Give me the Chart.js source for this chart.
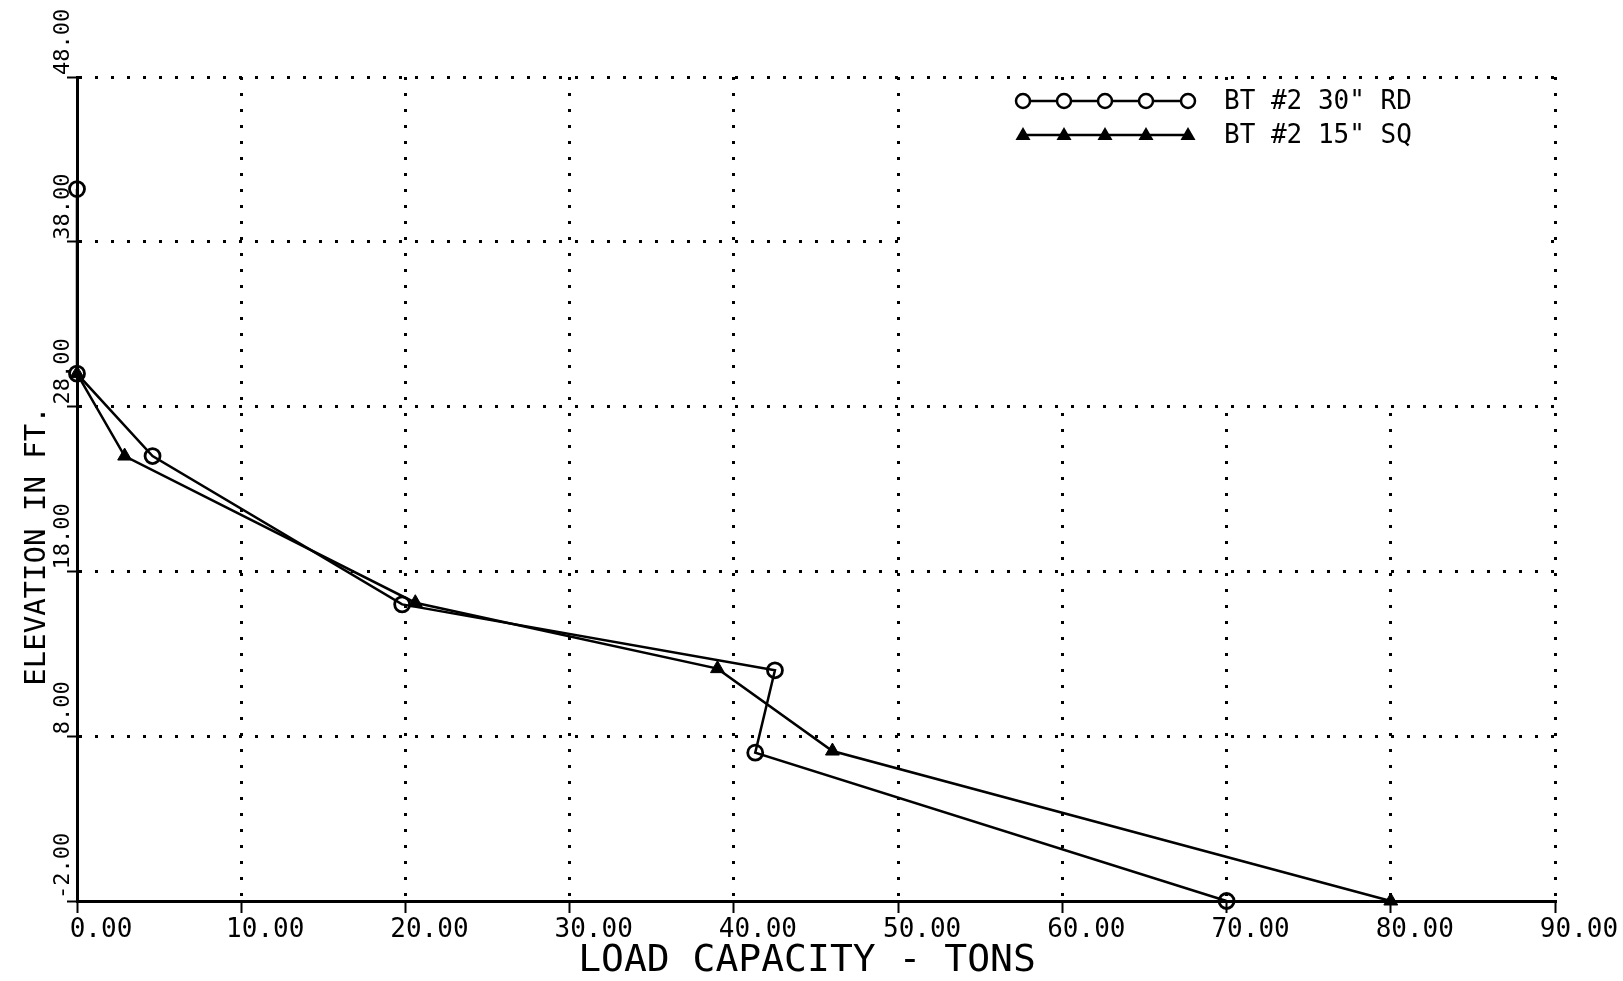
<!DOCTYPE html>
<html>
<head>
<meta charset="utf-8">
<script src="https://cdn.jsdelivr.net/npm/chart.js@4.4.0/dist/chart.umd.min.js"></script>
<style>
  html, body { margin: 0; padding: 0; background: #fff; }
  canvas { display: block; }
</style>
</head>
<body>
<canvas id="plot" width="1623" height="981"></canvas>
<script>
// values
const rdLoad = [0, 0, 4.6, 19.8, 42.5, 41.3, 70];
const rdElev = [41.2, 30, 25, 16, 12, 7, -2];
const sqLoad = [0, 2.9, 20.6, 39.0, 46.0, 80];
const sqElev = [30, 25, 16.1, 12.1, 7.1, -2];
const xTicks = [0, 10, 20, 30, 40, 50, 60, 70, 80, 90];
const yTicks = [-2, 8, 18, 28, 38, 48];
const seriesNames = ['BT #2 30" RD', 'BT #2 15" SQ'];
const xTitle = 'LOAD CAPACITY - TONS';
const yTitle = 'ELEVATION IN FT.';

const mono = '"DejaVu Sans Mono", "Liberation Mono", monospace';
const pts = (xs, ys) => xs.map((x, i) => ({x: x, y: ys[i]}));

// grid is blank behind the legend (50..90 x 28..48)
const legendGap = {
    id: 'legendGap',
    beforeDatasetsDraw(chart) {
        const {ctx, scales: {x, y}} = chart;
        ctx.save();
        ctx.fillStyle = '#fff';
        const x0 = x.getPixelForValue(50) + 4, x1 = x.getPixelForValue(90) - 4;
        const y0 = y.getPixelForValue(48) + 4, y1 = y.getPixelForValue(28) - 4;
        ctx.fillRect(x0, y0, x1 - x0, y1 - y0);
        ctx.restore();
    }
};

function marker(ctx, kind, x, y) {
    ctx.beginPath();
    if (kind === 0) {
        ctx.arc(x, y, 7, 0, Math.PI * 2);
        ctx.fillStyle = '#fff';
        ctx.fill();
        ctx.lineWidth = 2.5;
        ctx.stroke();
    } else {
        ctx.moveTo(x, y - 8);
        ctx.lineTo(x + 7.5, y + 5);
        ctx.lineTo(x - 7.5, y + 5);
        ctx.closePath();
        ctx.fillStyle = '#000';
        ctx.fill();
    }
}

const decor = {
    id: 'decor',
    afterDraw(chart) {
        const {ctx, scales: {y}} = chart;
        ctx.save();
        ctx.fillStyle = '#000';
        ctx.strokeStyle = '#000';

        // y tick labels, rotated, reading upward from the tick
        ctx.font = '22px ' + mono;
        ctx.textAlign = 'left';
        ctx.textBaseline = 'middle';
        yTicks.forEach(v => {
            ctx.save();
            ctx.translate(63, y.getPixelForValue(v) - 2);
            ctx.rotate(-Math.PI / 2);
            ctx.fillText(v.toFixed(2), 0, 0);
            ctx.restore();
        });

        // axis titles
        ctx.save();
        ctx.translate(37, 546);
        ctx.rotate(-Math.PI / 2);
        ctx.font = '29px ' + mono;
        ctx.textAlign = 'center';
        ctx.fillText(yTitle, 0, 0);
        ctx.restore();

        ctx.font = '38px ' + mono;
        ctx.textAlign = 'center';
        ctx.fillText(xTitle, 807, 961);

        // legend
        const lx = [1023, 1064, 1105, 1146, 1188];
        const ly = [101, 135];
        ly.forEach((yy, k) => {
            ctx.lineWidth = 2.5;
            ctx.beginPath();
            ctx.moveTo(lx[0], yy);
            ctx.lineTo(lx[4], yy);
            ctx.stroke();
            lx.forEach(xx => marker(ctx, k, xx, yy));
            ctx.fillStyle = '#000';
            ctx.font = '26px ' + mono;
            ctx.textAlign = 'left';
            ctx.fillText(seriesNames[k], 1224, yy + 1);
        });
        ctx.restore();
    }
};

new Chart(document.getElementById('plot').getContext('2d'), {
    type: 'scatter',
    data: {
        datasets: [{
            label: seriesNames[0],
            data: pts(rdLoad, rdElev),
            showLine: true,
            borderColor: '#000',
            borderWidth: 2.5,
            pointStyle: 'circle',
            pointRadius: 7.5,
            pointBorderWidth: 2.8,
            pointBorderColor: '#000',
            pointBackgroundColor: 'rgba(255,255,255,0)',
            clip: false
        }, {
            label: seriesNames[1],
            data: pts(sqLoad, sqElev),
            showLine: true,
            borderColor: '#000',
            borderWidth: 2.5,
            pointStyle: 'triangle',
            pointRadius: 8,
            pointBorderWidth: 1,
            pointBorderColor: '#000',
            pointBackgroundColor: '#000',
            clip: false
        }]
    },
    options: {
        responsive: false,
        animation: false,
        devicePixelRatio: 1,
        layout: {padding: {top: 77, right: 68, left: 0, bottom: 0}},
        plugins: {
            legend: {display: false},
            tooltip: {enabled: false}
        },
        scales: {
            x: {
                type: 'linear',
                min: 0,
                max: 90,
                afterBuildTicks: s => { s.ticks = xTicks.map(v => ({value: v})); },
                afterFit: s => { s.height = 80; },
                grid: {color: '#000', lineWidth: 3, tickLength: 12, tickWidth: 2, tickColor: '#000'},
                border: {display: true, color: '#000', width: 3, dash: [3, 13]},
                ticks: {
                    color: '#000',
                    font: {family: mono, size: 26},
                    padding: 2,
                    labelOffset: 24,
                    maxRotation: 0,
                    callback: v => v.toFixed(2)
                }
            },
            y: {
                type: 'linear',
                min: -2,
                max: 48,
                afterBuildTicks: s => { s.ticks = yTicks.map(v => ({value: v})); },
                afterFit: s => { s.width = 77; },
                grid: {color: '#000', lineWidth: 3, tickLength: 10, tickWidth: 2, tickColor: '#000'},
                border: {display: true, color: '#000', width: 3, dash: [3, 13]},
                ticks: {display: false}
            }
        }
    },
    plugins: [legendGap, decor]
});
</script>
</body>
</html>
